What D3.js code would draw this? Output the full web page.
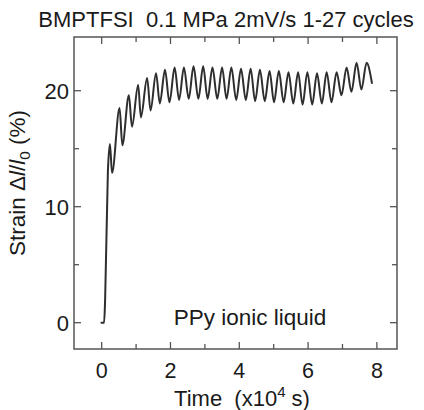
<!DOCTYPE html>
<html>
<head>
<meta charset="utf-8">
<script src="https://cdn.jsdelivr.net/npm/d3@7"></script>
<style>
  body { margin: 0; background: #fff; }
  svg { display: block; font-family: "Liberation Sans", Arial, sans-serif; }
</style>
</head>
<body>
<svg id="chart" width="424" height="410"></svg>
<script>
// strain trace: time in 1e4 s, strain in %
const startTime = [-0.03, 0.07, 0.10, 0.18];
const startStrain = [0, 0, 2.0, 13.0];

const peakTime = [0.24, 0.52, 0.79, 1.06, 1.32, 1.58, 1.84, 2.12, 2.39, 2.67, 2.95, 3.22, 3.50, 3.77,
                  4.05, 4.33, 4.60, 4.88, 5.15, 5.43, 5.71, 5.98, 6.26, 6.54, 6.83, 7.12, 7.41, 7.70];
const peakStrain = [15.4, 18.5, 19.6, 20.5, 21.1, 21.5, 21.8, 22.0, 22.0, 22.1, 22.1, 22.0, 22.0, 22.0,
                    21.9, 21.9, 21.8, 21.7, 21.7, 21.6, 21.6, 21.6, 21.5, 21.6, 21.6, 22.0, 22.4, 22.4];
const troughTime = [0.30, 0.60, 0.88, 1.14, 1.42, 1.69, 1.97, 2.25, 2.53, 2.81, 3.08, 3.36, 3.63, 3.91,
                    4.19, 4.46, 4.74, 5.01, 5.29, 5.57, 5.84, 6.12, 6.40, 6.68, 6.97, 7.26, 7.55];
const troughStrain = [12.9, 15.3, 16.9, 17.7, 18.3, 18.9, 19.0, 19.2, 19.3, 19.3, 19.3, 19.3, 19.3, 19.2,
                      19.2, 19.1, 19.1, 19.0, 19.0, 18.9, 18.8, 18.8, 18.9, 19.0, 19.6, 19.9, 20.1];
const endTime = [7.86];
const endStrain = [20.6];

const xMajor = [0, 2, 4, 6, 8];
const xMinor = [1, 3, 5, 7];
const yMajor = [0, 10, 20];
const yMinor = [5, 15];

// build point list in time order
let pts = startTime.map((t, i) => ({t: t, s: startStrain[i]}));
peakTime.forEach((t, i) => {
    pts.push({t: t, s: peakStrain[i]});
    if (i < troughTime.length) pts.push({t: troughTime[i], s: troughStrain[i]});
});
endTime.forEach((t, i) => pts.push({t: t, s: endStrain[i]}));

const svg = d3.select("#chart");
const plotL = 74, plotR = 397, plotT = 37, plotB = 349;

const x = d3.scaleLinear().domain([-0.805, 8.585]).range([plotL, plotR]);
const y = d3.scaleLinear().domain([-2.27, 24.63]).range([plotB, plotT]);

const frameColor = "#555";
const ink = "#1a1a1a";

// ticks, all pointing inward
function ticks(axis, vals, len) {
    const tk = svg.append("g").attr("stroke", frameColor).attr("stroke-width", 1.3);
    vals.forEach(v => {
        if (axis === "x") {
            tk.append("line").attr("x1", x(v)).attr("x2", x(v)).attr("y1", plotB).attr("y2", plotB - len);
            tk.append("line").attr("x1", x(v)).attr("x2", x(v)).attr("y1", plotT).attr("y2", plotT + len);
        } else {
            tk.append("line").attr("y1", y(v)).attr("y2", y(v)).attr("x1", plotL).attr("x2", plotL + len);
            tk.append("line").attr("y1", y(v)).attr("y2", y(v)).attr("x1", plotR).attr("x2", plotR - len);
        }
    });
}
ticks("x", xMajor, 7);
ticks("x", xMinor, 5);
ticks("y", yMajor, 7);
ticks("y", yMinor, 5);

svg.append("rect")
    .attr("x", plotL).attr("y", plotT)
    .attr("width", plotR - plotL).attr("height", plotB - plotT)
    .attr("fill", "none").attr("stroke", frameColor).attr("stroke-width", 1.5);

// tick labels
svg.append("g").selectAll("text").data(xMajor).join("text")
    .attr("x", d => x(d)).attr("y", 378)
    .attr("text-anchor", "middle").attr("font-size", 21.5).attr("fill", ink)
    .text(d => d);

svg.append("g").selectAll("text").data(yMajor).join("text")
    .attr("x", 69).attr("y", d => y(d) + 8)
    .attr("text-anchor", "end").attr("font-size", 22).attr("fill", ink)
    .text(d => d);

// the strain curve
const line = d3.line().x(d => x(d.t)).y(d => y(d.s)).curve(d3.curveMonotoneX);
svg.append("path")
    .datum(pts)
    .attr("d", line)
    .attr("fill", "none")
    .attr("stroke", "#2e2e2e")
    .attr("stroke-width", 2)
    .attr("stroke-linejoin", "round");

// title
svg.append("text")
    .attr("x", 226).attr("y", 27)
    .attr("text-anchor", "middle").attr("font-size", 22).attr("fill", ink)
    .attr("xml:space", "preserve")
    .text("BMPTFSI  0.1 MPa 2mV/s 1-27 cycles");

// annotation
svg.append("text")
    .attr("x", 250).attr("y", 325)
    .attr("text-anchor", "middle").attr("font-size", 22.5).attr("fill", ink)
    .text("PPy ionic liquid");

// x axis title
const xt = svg.append("text")
    .attr("x", 242).attr("y", 406)
    .attr("text-anchor", "middle").attr("font-size", 22).attr("fill", ink)
    .attr("xml:space", "preserve");
xt.append("tspan").text("Time  (x10");
xt.append("tspan").attr("font-size", 15).attr("dy", -9).text("4");
xt.append("tspan").attr("dy", 9).text(" s)");

// y axis title
const yt = svg.append("text")
    .attr("transform", "translate(25,183) rotate(-90)")
    .attr("text-anchor", "middle").attr("font-size", 22.5).attr("fill", ink)
    .attr("xml:space", "preserve");
yt.append("tspan").text("Strain \u0394");
yt.append("tspan").attr("font-style", "italic").text("l");
yt.append("tspan").text("/");
yt.append("tspan").attr("font-style", "italic").text("l");
yt.append("tspan").attr("font-size", 15.5).attr("dy", 5).text("0");
yt.append("tspan").attr("dy", -5).text(" (%)");
</script>
</body>
</html>
